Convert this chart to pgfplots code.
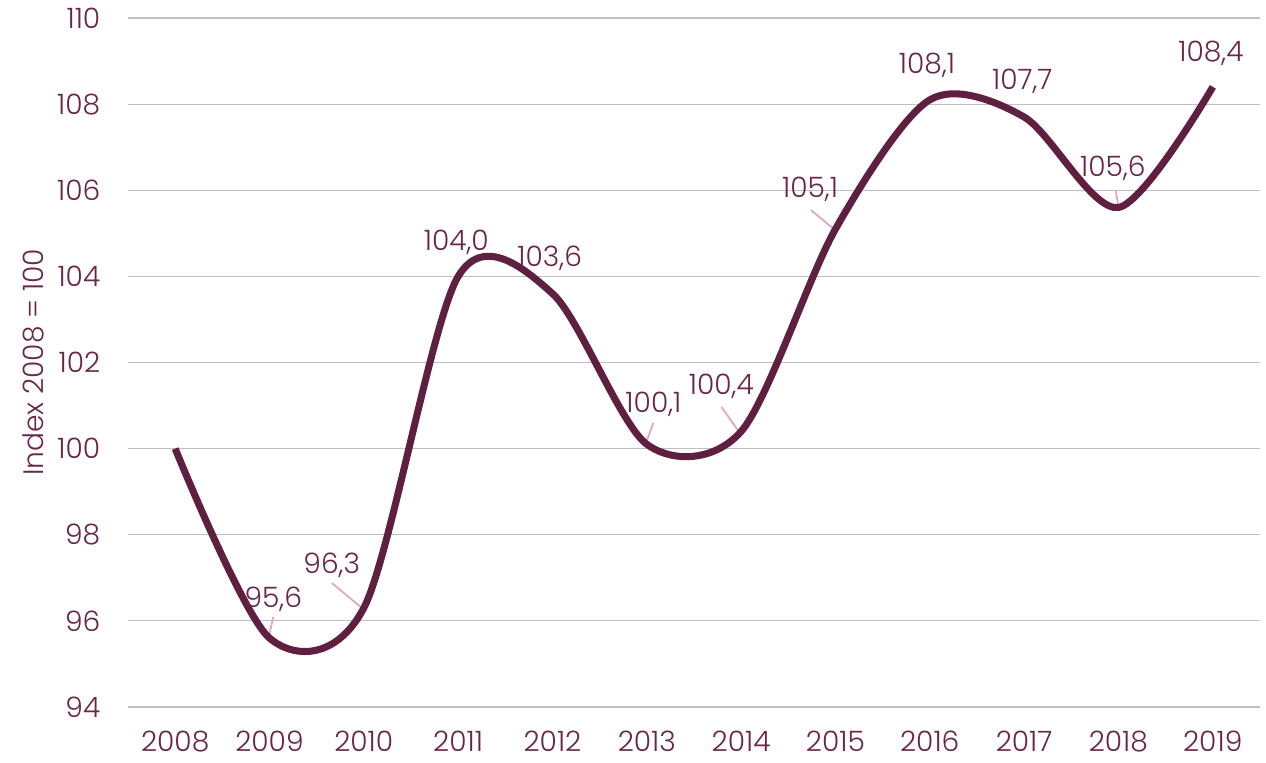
\documentclass[border=0pt]{standalone}
\usepackage{fontspec}
\setmainfont{Poppins}[UprightFont=* Light]
\usepackage{pgfplots}
\pgfplotsset{compat=1.18}
\definecolor{wine}{HTML}{5F1F40}
\definecolor{txt}{HTML}{6A2548}
\definecolor{lead}{HTML}{E3A5C0}
\definecolor{gridc}{HTML}{C0C0C0}
\begin{document}
\begin{tikzpicture}
\begin{axis}[
    set layers,
    scale only axis,
    width=226.4mm, height=137.8mm,
    xmin=2007.5, xmax=2019.5, ymin=94, ymax=110,
    xtick={2008,...,2019}, ytick={94,96,...,110},
    axis line style={draw=none},
    major tick length=0pt,
    ymajorgrids, grid style={gridc, line width=0.7pt},
    /pgf/number format/1000 sep=,
    /pgf/number format/assume math mode=true,
    ticklabel style={font=\fontsize{16}{18}\selectfont, text=txt},
    yticklabel style={xshift=-4.3mm},
    xticklabel style={yshift=-3.6mm},
    ylabel={Index 2008 = 100},
    ylabel style={at={(axis description cs:-0.0839,0.5)}, anchor=center,
        font=\fontsize{16}{18}\selectfont, text=txt},
    clip=false,
]
\begin{pgfonlayer}{axis grid}
\draw[lead, line width=1pt] (axis cs:2009.04,96.09) -- (axis cs:2008.99,95.60);
\draw[lead, line width=1pt] (axis cs:2009.66,96.88) -- (axis cs:2009.98,96.30);
\draw[lead, line width=1pt] (axis cs:2013.07,100.60) -- (axis cs:2012.99,100.13);
\draw[lead, line width=1pt] (axis cs:2013.79,100.97) -- (axis cs:2013.97,100.41);
\draw[lead, line width=1pt] (axis cs:2014.74,105.54) -- (axis cs:2014.97,105.12);
\draw[lead, line width=1pt] (axis cs:2017.97,106.01) -- (axis cs:2018.00,105.60);
\end{pgfonlayer}
\addplot[wine, line width=4pt, smooth, tension=0.5] coordinates {
    (2008,100.0) (2009,95.6) (2010,96.3) (2011,104.0) (2012,103.6) (2013,100.1)
    (2014,100.4) (2015,105.1) (2016,108.1) (2017,107.7) (2018,105.6) (2019,108.4)
};
\begin{pgfonlayer}{axis foreground}
\begin{scope}[every node/.style={font=\fontsize{16}{18}\selectfont, text=txt, anchor=base, inner sep=0pt}]
\node at (axis cs:2009.04,96.30) {95,6};
\node at (axis cs:2009.66,97.11) {96,3};
\node at (axis cs:2010.98,104.61) {104,0};
\node at (axis cs:2011.97,104.24) {103,6};
\node at (axis cs:2013.07,100.85) {100,1};
\node at (axis cs:2013.79,101.25) {100,4};
\node at (axis cs:2014.73,105.82) {105,1};
\node at (axis cs:2015.97,108.72) {108,1};
\node at (axis cs:2016.98,108.35) {107,7};
\node at (axis cs:2017.94,106.33) {105,6};
\node at (axis cs:2018.98,109.00) {108,4};
\end{scope}
\end{pgfonlayer}
\end{axis}
\pgfresetboundingbox
\path ([shift={(-25.6mm,-11mm)}]current axis.south west) rectangle ([shift={(1.2mm,3.6mm)}]current axis.north east);
\end{tikzpicture}
\end{document}
